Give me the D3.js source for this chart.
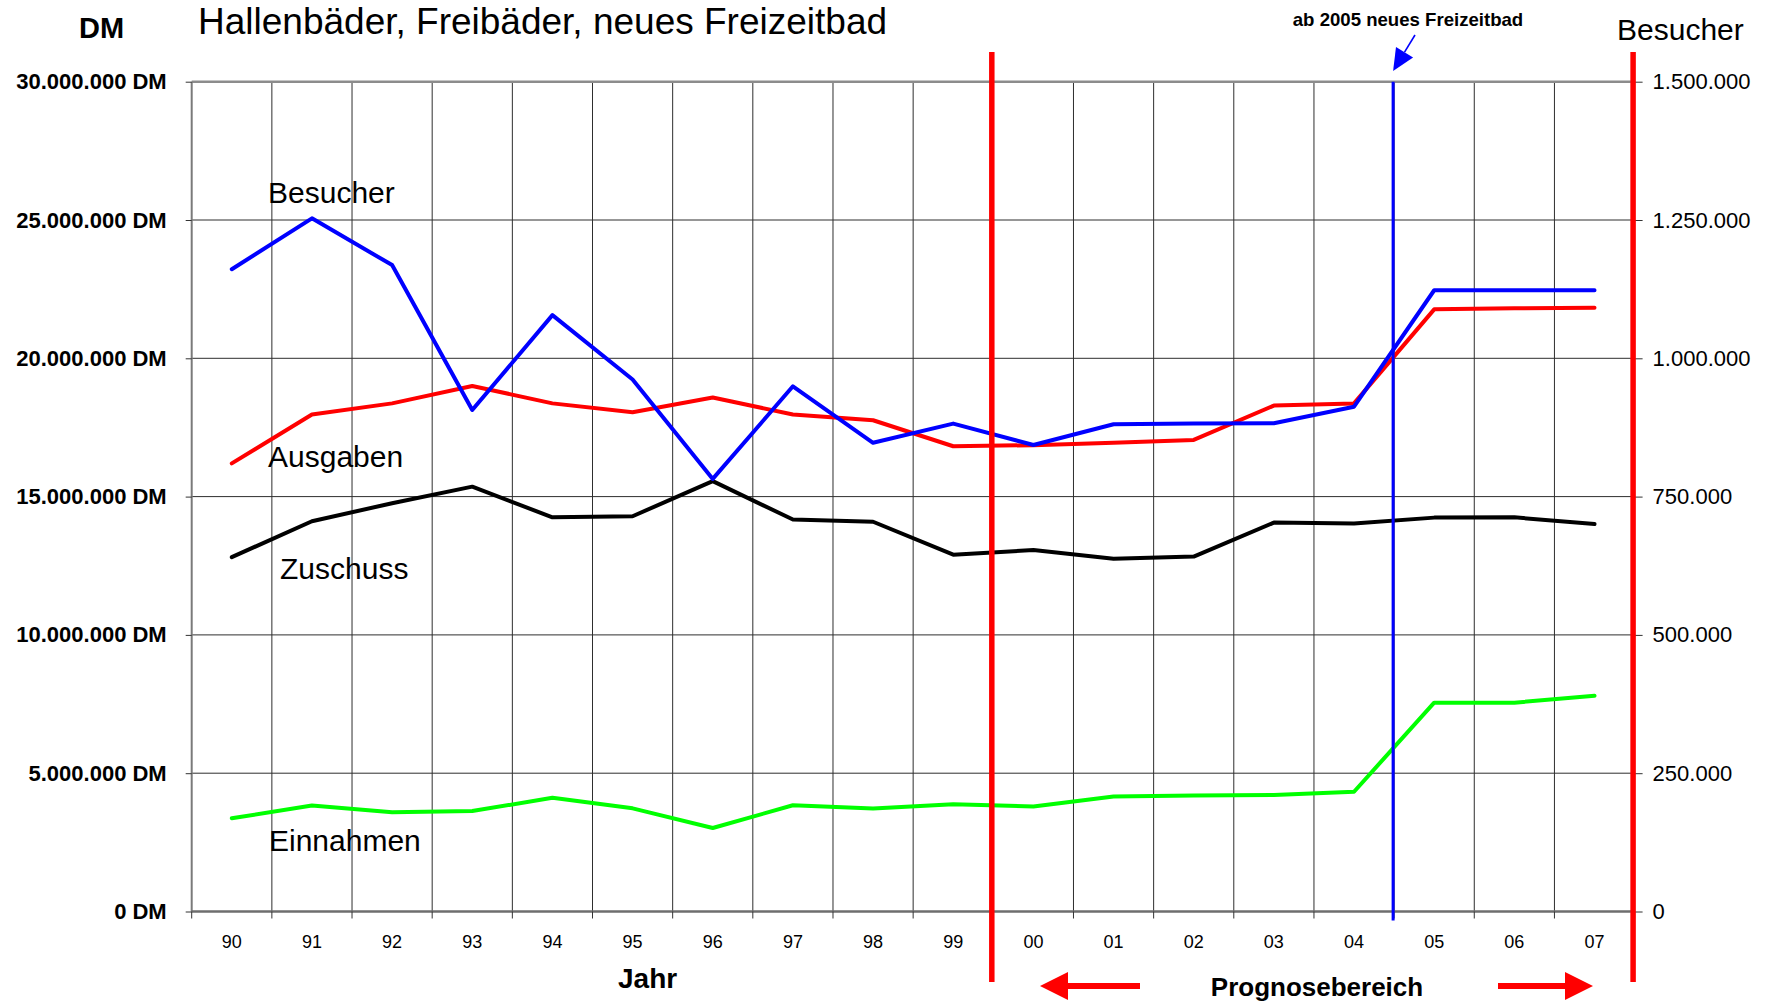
<!DOCTYPE html>
<html>
<head>
<meta charset="utf-8">
<script src="https://cdn.jsdelivr.net/npm/d3@7"></script>
<style>
  html, body { margin: 0; padding: 0; background: #fff; }
  svg { display: block; font-family: "Liberation Sans", Arial, sans-serif; }
</style>
</head>
<body>
<svg id="chart" width="1771" height="1005"></svg>
<script>
// Jahre (Kategorien der x-Achse)
const years = ["90","91","92","93","94","95","96","97","98","99","00","01","02","03","04","05","06","07"];

// Beträge in Mio. DM
const ausgaben  = [16.20, 17.97, 18.37, 19.00, 18.37, 18.05, 18.58, 17.97, 17.76, 16.82, 16.86, 16.95, 17.05, 18.29, 18.37, 21.77, 21.81, 21.83];
const zuschuss  = [12.81, 14.11, 14.76, 15.36, 14.25, 14.29, 15.56, 14.17, 14.09, 12.90, 13.07, 12.75, 12.83, 14.06, 14.03, 14.24, 14.25, 14.01];
const einnahmen = [3.37, 3.83, 3.59, 3.63, 4.11, 3.73, 3.02, 3.84, 3.72, 3.88, 3.80, 4.16, 4.19, 4.21, 4.33, 7.55, 7.55, 7.80];

// Besucherzahlen (rechte Achse)
const besucher  = [1161000, 1253000, 1168500, 906500, 1078000, 961700, 782000, 949400, 847300, 882000, 843200, 880700, 882000, 882500, 912500, 1123000, 1123000, 1123000];

// Achsenteilung
const dmTicks = [0, 5e6, 10e6, 15e6, 20e6, 25e6, 30e6];
const besucherTicks = [0, 250000, 500000, 750000, 1000000, 1250000, 1500000];

(function draw() {
  const svg = d3.select("#chart");
  const pLeft = 191.7, pRight = 1634.6, pTop = 81.7, pBottom = 911.5;

  const x = d3.scaleBand().domain(years).range([pLeft, pRight]).padding(0);
  const yL = d3.scaleLinear().domain([0, 30e6]).range([pBottom, pTop]);
  const yR = d3.scaleLinear().domain([0, 1.5e6]).range([pBottom, pTop]);
  const cx = d => x(d) + x.bandwidth() / 2;
  const boundaries = years.map(d => x(d)).concat([pRight]);

  const de = d3.formatLocale({ decimal: ",", thousands: ".", grouping: [3], currency: ["", " DM"] });
  const fmt = de.format(",d");

  // Gitternetz
  const grid = svg.append("g");
  grid.selectAll("line.v").data(boundaries.slice(1, -1)).join("line")
    .attr("x1", d => d).attr("x2", d => d).attr("y1", pTop).attr("y2", pBottom)
    .attr("stroke", "#2e2e2e").attr("stroke-width", 1);
  grid.selectAll("line.h").data(dmTicks.slice(1, -1)).join("line")
    .attr("x1", pLeft).attr("x2", pRight).attr("y1", d => yL(d)).attr("y2", d => yL(d))
    .attr("stroke", "#2e2e2e").attr("stroke-width", 1);

  // Rahmenlinien
  grid.append("line").attr("x1", pLeft).attr("x2", pRight).attr("y1", pTop).attr("y2", pTop)
    .attr("stroke", "#8c8c8c").attr("stroke-width", 2.5);
  grid.append("line").attr("x1", pLeft).attr("x2", pLeft).attr("y1", pTop).attr("y2", pBottom)
    .attr("stroke", "#7a7a7a").attr("stroke-width", 2);
  grid.append("line").attr("x1", pLeft).attr("x2", pRight).attr("y1", pBottom).attr("y2", pBottom)
    .attr("stroke", "#6e6e6e").attr("stroke-width", 2.5);

  // Linke Achse (DM)
  const axL = svg.append("g").attr("transform", `translate(${pLeft},0)`)
    .call(d3.axisLeft(yL).tickValues(dmTicks).tickSize(6).tickPadding(19)
      .tickFormat(d => fmt(d) + " DM"));
  axL.select(".domain").remove();
  axL.selectAll(".tick line").attr("stroke", "#333");
  axL.selectAll(".tick text").attr("font-family", "Liberation Sans, Arial, sans-serif")
    .attr("font-size", 22).attr("font-weight", "bold").attr("fill", "#000");

  // Rechte Achse (Besucher)
  const axR = svg.append("g").attr("transform", `translate(${pRight},0)`)
    .call(d3.axisRight(yR).tickValues(besucherTicks).tickSize(8).tickPadding(10)
      .tickFormat(d => fmt(d)));
  axR.select(".domain").remove();
  axR.selectAll(".tick line").attr("stroke", "#333");
  axR.selectAll(".tick text").attr("font-family", "Liberation Sans, Arial, sans-serif")
    .attr("font-size", 22).attr("fill", "#000");

  // Untere Achse: Striche an den Feldgrenzen, Beschriftung mittig
  svg.append("g").selectAll("line").data(boundaries).join("line")
    .attr("x1", d => d).attr("x2", d => d).attr("y1", pBottom).attr("y2", pBottom + 7)
    .attr("stroke", "#333").attr("stroke-width", 1);
  const axB = svg.append("g").attr("transform", `translate(0,${pBottom})`)
    .call(d3.axisBottom(x).tickSize(0).tickPadding(24));
  axB.select(".domain").remove();
  axB.selectAll(".tick text").attr("font-family", "Liberation Sans, Arial, sans-serif")
    .attr("font-size", 18).attr("fill", "#000");

  // Datenreihen
  const lineDM = d3.line().x((d, i) => cx(years[i])).y(d => yL(d * 1e6));
  const lineB = d3.line().x((d, i) => cx(years[i])).y(d => yR(d));
  const series = svg.append("g").attr("fill", "none").attr("stroke-width", 4)
    .attr("stroke-linejoin", "round").attr("stroke-linecap", "round");
  series.append("path").attr("d", lineDM(einnahmen)).attr("stroke", "#00ff00");
  series.append("path").attr("d", lineDM(zuschuss)).attr("stroke", "#000000");
  series.append("path").attr("d", lineDM(ausgaben)).attr("stroke", "#ff0000");
  series.append("path").attr("d", lineB(besucher)).attr("stroke", "#0000ff");

  // Markierung Freizeitbad ab 2005
  const xNeu = x("05");
  svg.append("line").attr("x1", xNeu - 1).attr("x2", xNeu - 1).attr("y1", pTop).attr("y2", pBottom + 9)
    .attr("stroke", "#0000ff").attr("stroke-width", 3);

  // Prognosebereich: rote Begrenzungen
  const xProg = x("00");
  svg.append("g").selectAll("line").data([xProg - 1.5, pRight - 1.5]).join("line")
    .attr("x1", d => d).attr("x2", d => d).attr("y1", 52).attr("y2", 982)
    .attr("stroke", "#ff0000").attr("stroke-width", 5.5);

  // Pfeil zur Freizeitbad-Markierung
  {
    const x0 = 1415, y0 = 35, x1 = xNeu - 1, y1 = 71;
    const ang = Math.atan2(y1 - y0, x1 - x0);
    const len = 22, half = 10;
    const bx = x1 - len * Math.cos(ang), by = y1 - len * Math.sin(ang);
    svg.append("line").attr("x1", x0).attr("y1", y0).attr("x2", bx).attr("y2", by)
      .attr("stroke", "#0000ff").attr("stroke-width", 1.6);
    const px = -Math.sin(ang) * half, py = Math.cos(ang) * half;
    svg.append("path")
      .attr("d", `M${x1},${y1}L${bx + px},${by + py}L${bx - px},${by - py}Z`)
      .attr("fill", "#0000ff");
  }

  // Pfeile unter dem Prognosebereich
  function arrow(xTail, xTip, y) {
    const dir = Math.sign(xTip - xTail);
    const headLen = 28, half = 14, shaft = 6;
    const xb = xTip - dir * headLen;
    svg.append("path")
      .attr("d", `M${xTail},${y - shaft / 2}L${xb},${y - shaft / 2}L${xb},${y - half}L${xTip},${y}` +
        `L${xb},${y + half}L${xb},${y + shaft / 2}L${xTail},${y + shaft / 2}Z`)
      .attr("fill", "#ff0000");
  }
  arrow(1140, 1040, 986);
  arrow(1498, 1593, 986);

  // Beschriftungen
  const txt = (s, xx, yy, size, opts = {}) => svg.append("text")
    .attr("x", xx).attr("y", yy).attr("font-size", size)
    .attr("font-weight", opts.bold ? "bold" : "normal")
    .attr("text-anchor", opts.anchor || "start").attr("fill", "#000").text(s);

  txt("DM", 79, 38, 29, { bold: true });
  txt("Hallenbäder, Freibäder, neues Freizeitbad", 198, 34, 37);
  txt("ab 2005 neues Freizeitbad", 1408, 26, 18.6, { bold: true, anchor: "middle" });
  txt("Besucher", 1617, 40, 30);

  txt("Besucher", 268, 203, 30);
  txt("Ausgaben", 268, 467, 30);
  txt("Zuschuss", 280, 579, 30);
  txt("Einnahmen", 269, 851, 30);

  txt("Jahr", 618, 988, 28, { bold: true });
  txt("Prognosebereich", 1317, 996, 26, { bold: true, anchor: "middle" });
})();
</script>
</body>
</html>
